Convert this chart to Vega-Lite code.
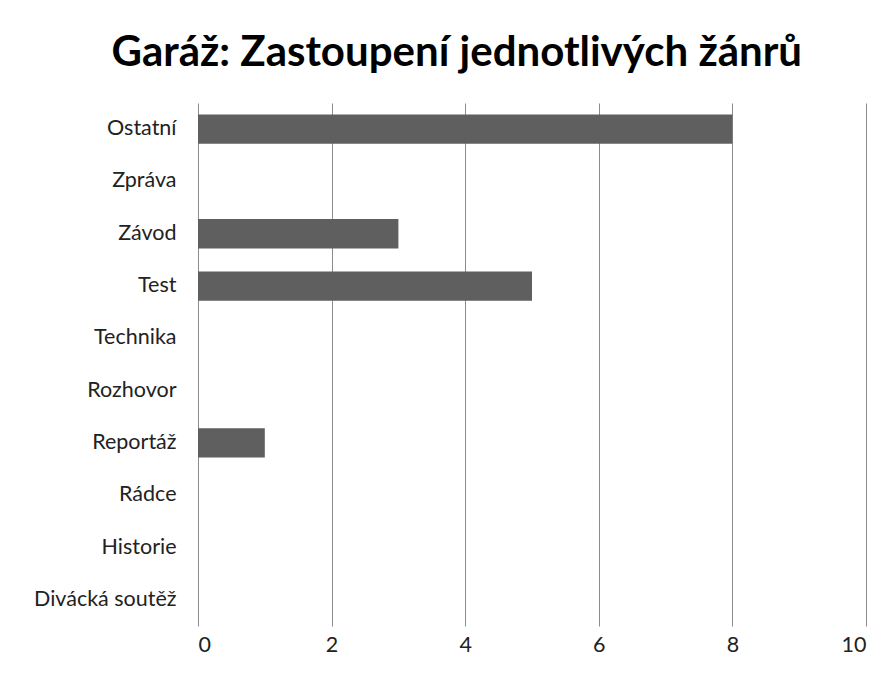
{
  "$schema": "https://vega.github.io/schema/vega-lite/v6.json",
  "width": 668,
  "height": 523,
  "autosize": {"type": "none"},
  "padding": {"left": 198, "top": 103, "right": 30, "bottom": 53},
  "background": "white",
  "title": {
    "text": "Garáž: Zastoupení jednotlivých žánrů",
    "font": "Lato",
    "fontSize": 42,
    "fontWeight": "bold",
    "color": "#000000",
    "anchor": "middle",
    "frame": "bounds",
    "offset": 28,
    "dx": 7
  },
  "data": {
    "values": [
      {"zanr": "Ostatní", "pocet": 8},
      {"zanr": "Zpráva", "pocet": 0},
      {"zanr": "Závod", "pocet": 3},
      {"zanr": "Test", "pocet": 5},
      {"zanr": "Technika", "pocet": 0},
      {"zanr": "Rozhovor", "pocet": 0},
      {"zanr": "Reportáž", "pocet": 1},
      {"zanr": "Rádce", "pocet": 0},
      {"zanr": "Historie", "pocet": 0},
      {"zanr": "Divácká soutěž", "pocet": 0}
    ]
  },
  "mark": {"type": "bar", "color": "#5f5f5f", "strokeWidth": 0},
  "encoding": {
    "y": {
      "field": "zanr",
      "type": "nominal",
      "sort": null,
      "title": null,
      "scale": {"paddingInner": 0.44, "paddingOuter": 0.22},
      "axis": {
        "domain": false,
        "ticks": false,
        "grid": false,
        "labelFont": "Lato",
        "labelFontSize": 21.5,
        "labelColor": "#222222",
        "labelPadding": 22
      }
    },
    "x": {
      "field": "pocet",
      "type": "quantitative",
      "title": null,
      "scale": {"domain": [0, 10]},
      "axis": {
        "values": [0, 2, 4, 6, 8, 10],
        "domain": false,
        "ticks": false,
        "grid": true,
        "gridColor": "#8c8c8c",
        "gridWidth": 1,
        "labelFont": "Lato",
        "labelFontSize": 21.5,
        "labelColor": "#222222",
        "labelPadding": 8
      }
    }
  },
  "config": {"view": {"stroke": null}}
}
